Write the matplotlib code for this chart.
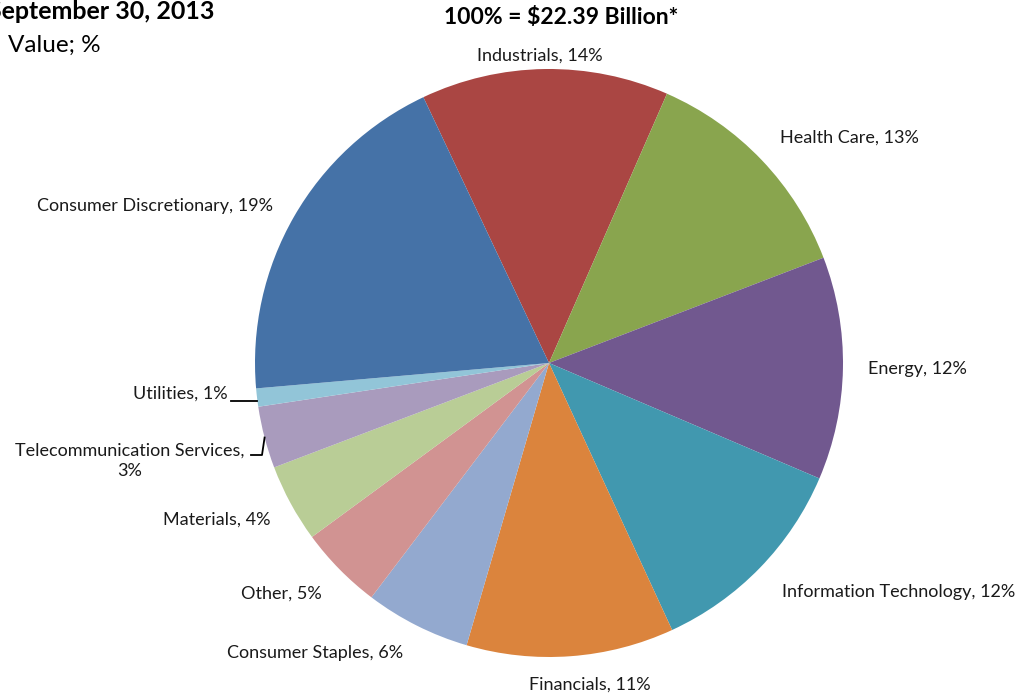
import numpy as np
import matplotlib
matplotlib.use("Agg")
import matplotlib.pyplot as plt

plt.rcParams['font.family'] = ['Lato', 'DejaVu Sans']

# sector weights, clockwise from Industrials
sectors = ["Industrials", "Health Care", "Energy", "Information Technology",
           "Financials", "Consumer Staples", "Other", "Materials",
           "Telecommunication Services", "Utilities", "Consumer Discretionary"]
weights = [13.6, 12.6, 12.25, 11.7, 11.4, 5.8, 4.6, 4.3, 3.4, 1.0, 19.35]
colours = ["#AA4643", "#89A54E", "#71588F", "#4198AF", "#DB843D", "#93A9CF",
           "#D19392", "#B9CD96", "#A99BBD", "#92C5D8", "#4572A7"]
total_label = "100% = $22.39 Billion*"

W, H = 1017, 694
cx, cy, R = 549, 363, 294

fig = plt.figure(figsize=(W / 100, H / 100), dpi=100)
ax = fig.add_axes([0, 0, 1, 1])
ax.axis('off')

start = 115.3
wedges, _ = ax.pie(weights, colors=colours, startangle=start, counterclock=False,
                   radius=1.0, wedgeprops=dict(linewidth=0))

# pie() resets the limits, so set them afterwards
ax.set_aspect('auto')
ax.set_xlim(-cx / R, (W - cx) / R)
ax.set_ylim(-(H - cy) / R, cy / R)

def px(x, y):
    # pixel position -> data units
    return (x - cx) / R, (cy - y) / R

# label anchors (pixels) and alignment
layout = [
    ((540, 56), 'center'),
    ((780, 138), 'left'),
    ((868, 369), 'left'),
    ((782, 592), 'left'),
    ((590, 685), 'center'),
    ((403, 653), 'right'),
    ((322, 594), 'right'),
    ((270, 520), 'right'),
    ((130, 461), 'center'),
    ((228, 394), 'right'),
    ((273, 206), 'right'),
]

for name, w, (pos, ha) in zip(sectors, weights, layout):
    txt = f"{name}, {round(w):d}%"
    if name.startswith("Telecom"):
        txt = f"{name},\n{round(w):d}%"
    x, y = px(*pos)
    ax.text(x, y, txt, ha=ha, va='center', fontsize=13, color='#1a1a1a',
            linespacing=1.3)

# leader lines for the two thin slices
def mid_point(i, r=1.0):
    a0 = start - sum(weights[:i]) * 3.6
    a = np.deg2rad(a0 - weights[i] * 1.8)
    return r * np.cos(a), r * np.sin(a)

ux, uy = mid_point(sectors.index("Utilities"), 1.0)
x0, y0 = px(231, 401)
ax.plot([x0, ux], [y0, y0], color='black', lw=1.3)

tx, ty = mid_point(sectors.index("Telecommunication Services"), 1.0)
x0, y0 = px(251, 455)
x1, _ = px(262, 455)
ax.plot([x0, x1, tx], [y0, y0, ty], color='black', lw=1.3)

ax.text(*px(561, 18), total_label, ha='center', va='center', fontsize=16.5,
        fontweight='bold', color='black')
ax.text(*px(214, 12), "September 30, 2013", ha='right', va='center', fontsize=18,
        fontweight='bold', color='black')
ax.text(*px(8, 45), "Value; %", ha='left', va='center', fontsize=17.5,
        color='black')

fig.savefig("out.png", dpi=100)
